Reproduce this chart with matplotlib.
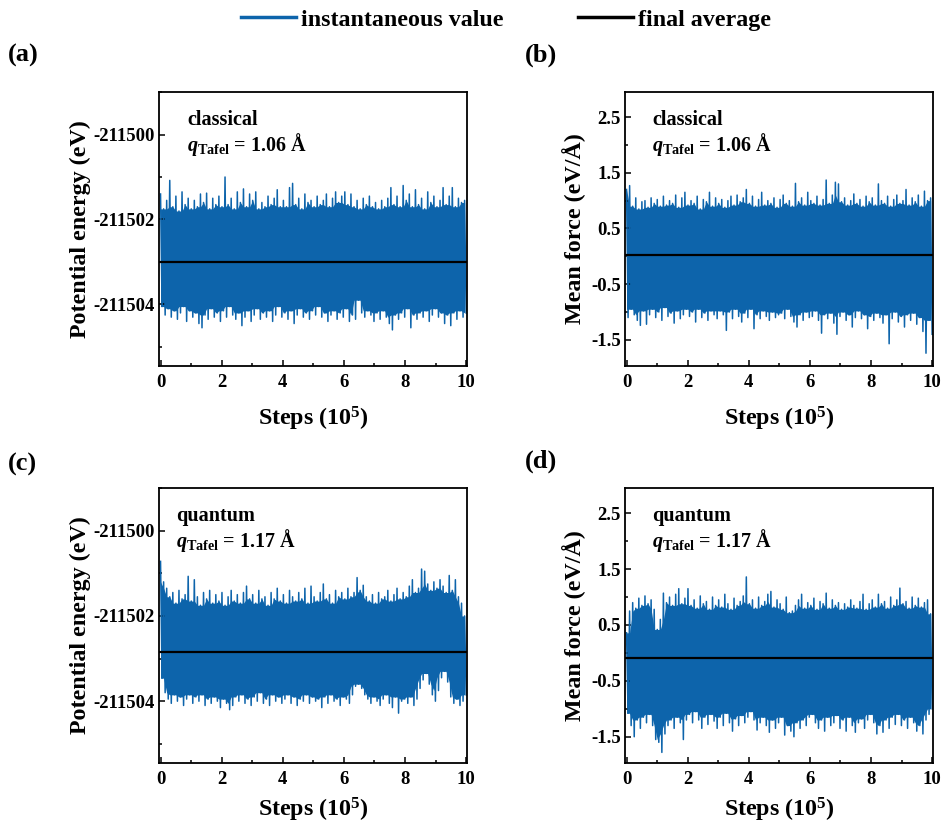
import numpy as np
import matplotlib
matplotlib.use("Agg")
import matplotlib.pyplot as plt
from matplotlib.lines import Line2D
from matplotlib.ticker import MultipleLocator

plt.rcParams['font.family'] = ['Liberation Serif', 'DejaVu Serif']
plt.rcParams['font.weight'] = 'bold'
plt.rcParams['mathtext.fontset'] = 'custom'
plt.rcParams['mathtext.rm'] = 'Liberation Serif:bold'
plt.rcParams['mathtext.bf'] = 'Liberation Serif:bold'
plt.rcParams['mathtext.it'] = 'Liberation Serif:italic:bold'

# ---------------- data ----------------
E_REF = -211500.0  # energy values below are relative to this (eV)

# (a) classical potential energy: local maxima / minima of the trace
a_up = [-1.40, -1.75, -1.55, -1.08, -1.70, -1.45, -1.80, -1.35, -1.65, -1.50,
        -1.75, -1.55, -1.70, -1.40, -1.60, -1.38, -1.75, -1.50, -1.65, -1.45,
        -1.70, -1.00, -1.65, -1.50, -1.75, -1.35, -1.60, -1.28, -1.70, -1.40,
        -1.55, -1.35, -1.75, -1.60, -1.70, -1.45, -1.65, -1.50, -1.30, -1.70,
        -1.55, -1.70, -1.25, -1.15, -1.65, -1.50, -1.75, -1.40, -1.60, -1.55,
        -1.70, -1.45, -1.65, -1.55, -1.40, -1.70, -1.50, -1.35, -1.60, -1.45,
        -1.35, -1.65, -1.40, -1.70, -1.55, -1.75, -1.50, -1.65, -1.45, -1.70,
        -1.60, -1.75, -1.55, -1.70, -1.50, -1.25, -1.65, -1.45, -1.70, -1.20,
        -1.55, -1.40, -1.70, -1.30, -1.65, -1.50, -1.75, -1.35, -1.60, -1.45,
        -1.70, -1.55, -1.25, -1.65, -1.45, -1.25, -1.70, -1.50, -1.60, -1.55]
a_lo = [-4.05, -4.25, -4.10, -4.30, -4.15, -4.35, -4.20, -4.05, -4.40, -4.15,
        -4.30, -4.20, -4.45, -4.55, -4.25, -4.35, -4.10, -4.30, -4.20, -4.40,
        -4.15, -4.30, -4.05, -4.25, -4.35, -4.20, -4.50, -4.30, -4.15, -4.40,
        -4.25, -4.10, -4.35, -4.20, -4.30, -4.15, -4.40, -4.25, -4.05, -4.30,
        -4.20, -4.35, -4.15, -4.45, -4.25, -4.10, -4.30, -4.20, -4.35, -4.15,
        -4.25, -4.05, -4.30, -4.20, -4.40, -4.25, -4.15, -4.35, -4.20, -4.30,
        -4.10, -4.40, -4.25, -4.35, -3.90, -4.20, -4.30, -4.15, -4.25, -4.40,
        -4.20, -4.35, -4.15, -4.30, -4.45, -4.60, -4.25, -4.35, -4.20, -4.30,
        -4.10, -4.55, -4.25, -4.35, -4.20, -4.30, -4.15, -4.40, -4.25, -4.10,
        -4.30, -4.20, -4.45, -4.25, -4.50, -4.20, -4.35, -4.15, -4.30, -4.20]

# (b) classical mean force (eV/Å)
b_up = [1.20, 1.27, 0.90, 1.05, 0.85, 0.98, 1.00, 0.88, 1.05, 0.95,
        1.02, 0.90, 1.08, 0.92, 1.00, 0.95, 1.10, 0.88, 1.05, 1.15,
        0.92, 1.00, 0.95, 1.08, 0.85, 1.02, 0.98, 1.15, 0.90, 1.05,
        0.95, 1.02, 0.88, 1.00, 1.08, 0.92, 1.10, 0.98, 1.05, 1.20,
        0.95, 1.08, 0.90, 1.02, 1.15, 0.92, 1.00, 0.95, 1.05, 0.88,
        1.02, 1.10, 0.95, 1.00, 0.90, 1.31, 0.98, 1.05, 0.92, 1.15,
        1.00, 0.95, 1.08, 0.92, 1.02, 1.37, 0.95, 1.10, 1.33, 1.30,
        0.98, 1.05, 0.92, 1.00, 1.12, 0.95, 1.02, 0.90, 1.08, 0.98,
        1.05, 0.92, 1.30, 1.00, 0.95, 1.08, 0.90, 1.02, 1.10, 0.95,
        1.00, 1.20, 0.92, 1.05, 0.98, 1.10, 0.90, 1.17, 1.00, 1.05]
b_lo = [-1.10, -0.95, -1.05, -1.15, -1.24, -0.98, -1.22, -1.05, -0.95, -1.10,
        -1.00, -1.15, -0.92, -1.08, -1.02, -1.20, -0.98, -1.12, -1.05, -0.95,
        -1.08, -1.00, -1.18, -0.95, -1.10, -1.02, -1.15, -0.98, -1.05, -1.12,
        -0.98, -1.05, -1.33, -1.00, -1.12, -0.95, -1.08, -1.18, -1.02, -1.10,
        -0.95, -1.30, -1.05, -1.12, -0.98, -1.08, -1.15, -1.00, -1.10, -1.05,
        -1.02, -1.12, -0.95, -1.08, -1.18, -1.27, -1.05, -1.15, -1.00, -1.10,
        -1.08, -0.98, -1.15, -1.38, -1.05, -1.12, -1.02, -1.20, -1.40, -1.08,
        -1.00, -1.15, -1.05, -1.27, -1.10, -0.98, -1.12, -1.05, -1.30, -1.08,
        -1.15, -1.02, -1.10, -1.20, -1.05, -1.57, -1.12, -1.00, -1.18, -1.08,
        -1.27, -1.05, -1.15, -1.02, -1.22, -1.10, -1.35, -1.74, -1.15, -1.40]

# (c) quantum potential energy (relative to E_REF)
c_up = [-0.72, -1.20, -1.35, -1.55, -1.45, -1.70, -1.40, -1.60, -1.50, -1.07,
        -1.65, -1.15, -1.55, -1.75, -1.45, -1.60, -1.40, -1.70, -1.50, -1.65,
        -1.45, -1.75, -1.55, -1.40, -1.65, -1.50, -1.70, -1.45, -1.30, -1.60,
        -1.50, -1.70, -1.40, -1.60, -1.55, -1.75, -1.45, -1.60, -1.35, -1.65,
        -1.50, -1.70, -1.40, -1.55, -1.65, -1.45, -1.60, -1.35, -1.70, -1.30,
        -1.55, -1.65, -1.45, -1.25, -1.60, -1.50, -1.70, -1.40, -1.55, -1.45,
        -1.60, -1.35, -1.55, -1.45, -1.10, -1.40, -1.28, -1.55, -1.65, -1.50,
        -1.70, -1.45, -1.60, -1.55, -1.40, -1.65, -1.50, -1.35, -1.60, -1.45,
        -1.55, -1.30, -1.15, -1.45, -1.35, -0.90, -0.95, -1.25, -1.40, -1.20,
        -1.35, -1.15, -1.30, -1.45, -1.05, -1.40, -1.15, -1.55, -1.70, -2.00]
c_lo = [-3.46, -3.80, -3.95, -4.05, -3.85, -4.00, -3.90, -4.10, -3.95, -3.85,
        -4.05, -3.90, -4.00, -3.85, -4.10, -3.95, -4.05, -3.90, -4.00, -4.15,
        -3.95, -4.05, -4.20, -4.10, -3.90, -4.00, -3.85, -4.05, -3.95, -4.10,
        -3.90, -4.00, -3.80, -4.05, -3.95, -4.10, -3.85, -4.00, -3.90, -4.05,
        -3.95, -3.85, -4.05, -3.90, -4.10, -3.95, -4.00, -3.85, -4.05, -3.90,
        -4.00, -3.95, -4.15, -3.90, -4.05, -3.85, -4.00, -3.95, -4.10, -3.90,
        -3.95, -4.05, -3.85, -3.65, -3.60, -3.70, -3.85, -3.95, -4.05, -3.90,
        -4.00, -4.10, -3.95, -3.85, -4.05, -4.15, -3.90, -4.28, -4.00, -3.95,
        -4.05, -3.90, -4.10, -3.95, -3.70, -3.50, -3.35, -3.60, -3.85, -4.00,
        -3.75, -3.45, -3.30, -3.55, -3.90, -4.05, -3.95, -4.10, -4.00, -3.85]

# (d) quantum mean force (eV/Å)
d_up = [0.36, 0.75, 0.90, 0.80, 0.98, 0.85, 1.02, 0.88, 0.95, 0.78,
        0.42, 0.60, 1.07, 0.90, 1.00, 0.85, 1.05, 1.15, 0.88, 0.98,
        1.15, 0.85, 0.95, 0.80, 1.02, 0.88, 0.92, 0.78, 1.00, 0.85,
        0.95, 0.82, 1.05, 0.88, 0.78, 0.98, 0.85, 0.92, 1.02, 1.36,
        0.88, 0.95, 0.80, 1.00, 0.85, 0.92, 1.05, 1.10, 0.82, 0.95,
        0.88, 0.78, 1.00, 0.72, 0.75, 0.85, 0.95, 1.05, 0.80, 0.90,
        0.85, 0.98, 0.78, 0.92, 0.88, 1.07, 0.80, 0.95, 0.85, 0.90,
        0.78, 0.88, 0.82, 0.95, 0.85, 0.80, 0.92, 1.05, 0.78, 0.88,
        0.95, 0.82, 1.05, 0.88, 0.92, 0.80, 1.00, 0.85, 0.95, 1.16,
        0.88, 0.92, 0.80, 1.00, 0.85, 0.98, 0.82, 0.90, 0.95, 0.70]
d_lo = [-1.08, -1.30, -1.50, -1.20, -1.35, -1.15, -1.25, -1.10, -1.30, -1.55,
        -1.60, -1.78, -1.45, -1.30, -1.20, -1.35, -1.15, -1.25, -1.55, -1.20,
        -1.10, -1.25, -1.05, -1.20, -1.35, -1.15, -1.28, -1.10, -1.22, -1.35,
        -1.15, -1.30, -1.08, -1.25, -1.40, -1.18, -1.30, -1.12, -1.25, -1.15,
        -1.05, -1.20, -1.38, -1.25, -1.15, -1.30, -1.42, -1.20, -1.35, -1.25,
        -1.15, -1.47, -1.30, -1.40, -1.50, -1.25, -1.35, -1.20, -1.30, -1.15,
        -1.10, -1.25, -1.35, -1.20, -1.40, -1.15, -1.30, -1.25, -1.12, -1.35,
        -1.20, -1.40, -1.15, -1.30, -1.42, -1.25, -1.18, -1.35, -1.20, -1.10,
        -1.25, -1.45, -1.30, -1.42, -1.20, -1.35, -1.15, -1.28, -1.10, -1.30,
        -1.20, -1.35, -1.15, -1.25, -1.40, -1.30, -1.45, -1.20, -1.10, -1.00]

# final averages
avg_a = -211503.00
avg_b = 0.03
avg_c = -211502.85
avg_d = -0.09

panel_labels = ['(a)', '(b)', '(c)', '(d)']
methods = ['classical', 'classical', 'quantum', 'quantum']
q_values = ['1.06', '1.06', '1.17', '1.17']
steps_max = 10.0  # in units of 1e5 steps

BLUE = '#0d64ab'


def trace(up, lo, offset=0.0):
    """Zig-zag through the read maxima/minima (the dense fluctuating trace)."""
    up = np.asarray(up) + offset
    lo = np.asarray(lo) + offset
    y = np.empty(up.size * 2)
    y[0::2] = up
    y[1::2] = lo
    x = np.linspace(0, steps_max, y.size)
    return x, y, up, lo


def core(up, lo):
    """Solid body of the trace: lowest neighbouring maximum / highest neighbouring minimum."""
    upp = np.pad(up, 1, mode='edge')
    lop = np.pad(lo, 1, mode='edge')
    cu = np.minimum(np.minimum(upp[:-2], upp[1:-1]), upp[2:])
    cl = np.maximum(np.maximum(lop[:-2], lop[1:-1]), lop[2:])
    return cu, cl


fig = plt.figure(figsize=(9.42, 8.24), dpi=100)

W = 0.3270
axes_rects = [
    [0.1688, 0.5558, W, 0.3325],
    [0.6635, 0.5558, W, 0.3325],
    [0.1688, 0.0740, W, 0.3337],
    [0.6635, 0.0740, W, 0.3337],
]
series = [(a_up, a_lo, E_REF), (b_up, b_lo, 0.0), (c_up, c_lo, E_REF), (d_up, d_lo, 0.0)]
avgs = [avg_a, avg_b, avg_c, avg_d]
text_x = [0.092, 0.088, 0.056, 0.088]
xlabel_pad = [10, 10, 5, 5]
label_pos = [(0.008, 0.933), (0.557, 0.933), (0.008, 0.436), (0.557, 0.440)]

for i in range(4):
    ax = fig.add_axes(axes_rects[i])
    up, lo, off = series[i]
    x, y, upv, lov = trace(up, lo, off)
    cu, cl = core(upv, lov)
    ax.fill_between(x[0::2], cl, cu, color=BLUE, lw=0)
    ax.plot(x, y, color=BLUE, lw=1.1, solid_joinstyle='round')
    ax.axhline(avgs[i], color='black', lw=1.6)
    ax.set_xlim(-0.05, 10.03)
    ax.xaxis.set_major_locator(MultipleLocator(2))
    ax.xaxis.set_minor_locator(MultipleLocator(1))
    if i in (0, 2):
        ax.set_ylim(-211505.45, -211499.0)
        ax.set_yticks([-211504, -211502, -211500])
        ax.yaxis.set_minor_locator(MultipleLocator(1))
        ax.set_yticklabels(['-211504', '-211502', '-211500'])
        ax.set_ylabel('Potential energy (eV)', fontsize=17.3, fontweight='bold', labelpad=2)
    else:
        ax.set_ylim(-1.97, 2.95)
        ax.set_yticks([-1.5, -0.5, 0.5, 1.5, 2.5])
        ax.yaxis.set_minor_locator(MultipleLocator(0.5))
        ax.set_yticklabels(['-1.5', '-0.5', '0.5', '1.5', '2.5'])
        ax.set_ylabel('Mean force (eV/Å)', fontsize=17.3, fontweight='bold', labelpad=4)
    ax.set_xlabel('Steps (10$^5$)', fontsize=17.3, fontweight='bold', labelpad=xlabel_pad[i])
    ax.tick_params(which='both', direction='in', labelsize=13.5, width=1.1)
    ax.tick_params(axis='y', which='both', pad=3)
    ax.tick_params(axis='x', which='both', pad=6)
    ax.tick_params(which='major', length=4.5)
    ax.tick_params(which='minor', length=2.5)
    for lab in ax.get_xticklabels() + ax.get_yticklabels():
        lab.set_fontweight('bold')
    for sp in ax.spines.values():
        sp.set_linewidth(1.3)
    ax.text(text_x[i], 0.898, methods[i], transform=ax.transAxes, fontsize=14.5,
            fontweight='bold', va='center', ha='left')
    ax.text(text_x[i], 0.808, r'$q_{\mathrm{Tafel}}$ = ' + q_values[i] + ' Å',
            transform=ax.transAxes, fontsize=14.5, fontweight='bold', va='center', ha='left')
    fig.text(label_pos[i][0], label_pos[i][1], panel_labels[i], fontsize=19,
             fontweight='bold', va='center', ha='left')

handles = [Line2D([], [], color=BLUE, lw=2.5), Line2D([], [], color='black', lw=2.5)]
fig.legend(handles, ['instantaneous value', 'final average'], loc='center',
           bbox_to_anchor=(0.537, 0.976), ncol=2, frameon=False,
           prop={'family': 'Liberation Serif', 'weight': 'bold', 'size': 17.3},
           handlelength=2.3, handletextpad=0.2, columnspacing=3.1)

fig.savefig('out.png', dpi=100)
